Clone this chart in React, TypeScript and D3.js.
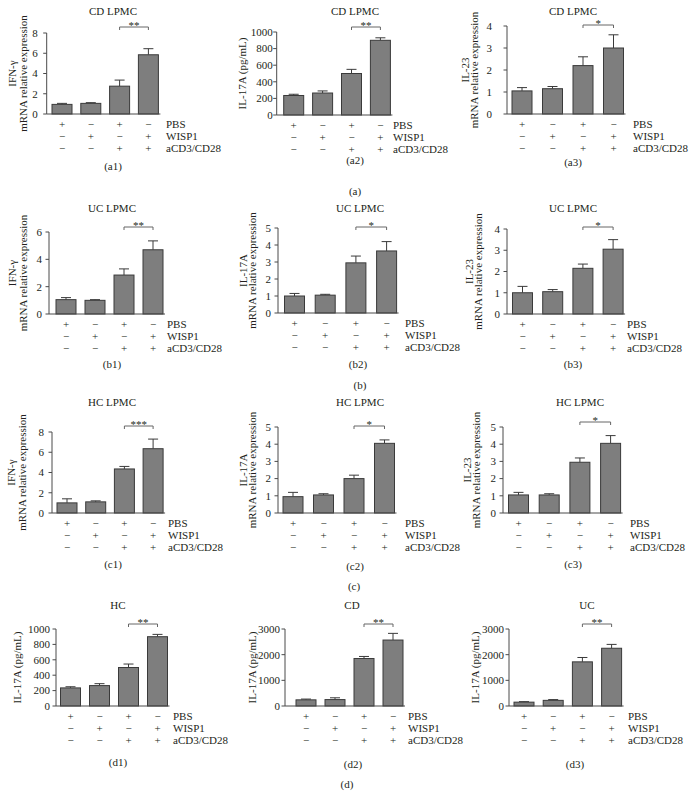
import React from "react";
import * as d3 from "d3";

// ---------- data ----------
const conditions = ["PBS", "WISP1", "aCD3/CD28"];
const signRows = [
  ["+", "−", "+", "−"],
  ["−", "+", "−", "+"],
  ["−", "−", "+", "+"],
];

const panelIds = ["a1", "a2", "a3", "b1", "b2", "b3", "c1", "c2", "c3", "d1", "d2", "d3"];
const panelTitles = ["CD LPMC", "CD LPMC", "CD LPMC", "UC LPMC", "UC LPMC", "UC LPMC", "HC LPMC", "HC LPMC", "HC LPMC", "HC", "CD", "UC"];
const yLabels = [
  ["IFN-γ", "mRNA relative expression"],
  ["IL-17A (pg/mL)"],
  ["IL-23", "mRNA relative expression"],
  ["IFN-γ", "mRNA relative expression"],
  ["IL-17A", "mRNA relative expression"],
  ["IL-23", "mRNA relative expression"],
  ["IFN-γ", "mRNA relative expression"],
  ["IL-17A", "mRNA relative expression"],
  ["IL-23", "mRNA relative expression"],
  ["IL-17A (pg/mL)"],
  ["IL-17A (pg/mL)"],
  ["IL-17A (pg/mL)"],
];
const yMax = [8, 1000, 4, 6, 5, 4, 8, 5, 5, 1000, 3000, 3000];
const yStep = [2, 200, 1, 2, 1, 1, 2, 1, 1, 200, 1000, 1000];
const stars = ["**", "**", "*", "**", "*", "*", "***", "*", "*", "**", "**", "**"];

const a1Mean = [0.95, 1.05, 2.75, 5.85];
const a1Top = [1.05, 1.12, 3.35, 6.45];
const a2Mean = [235, 265, 500, 900];
const a2Top = [250, 290, 550, 930];
const a3Mean = [1.05, 1.15, 2.2, 3.0];
const a3Top = [1.2, 1.25, 2.6, 3.6];
const b1Mean = [1.05, 1.0, 2.85, 4.7];
const b1Top = [1.2, 1.05, 3.3, 5.35];
const b2Mean = [1.0, 1.05, 2.95, 3.65];
const b2Top = [1.15, 1.1, 3.35, 4.2];
const b3Mean = [1.0, 1.05, 2.15, 3.05];
const b3Top = [1.3, 1.15, 2.35, 3.5];
const c1Mean = [1.0, 1.1, 4.35, 6.35];
const c1Top = [1.4, 1.2, 4.6, 7.3];
const c2Mean = [0.95, 1.05, 2.0, 4.05];
const c2Top = [1.2, 1.12, 2.2, 4.25];
const c3Mean = [1.05, 1.05, 2.95, 4.05];
const c3Top = [1.2, 1.12, 3.2, 4.5];
const d1Mean = [235, 265, 500, 900];
const d1Top = [250, 290, 545, 930];
const d2Mean = [240, 250, 1850, 2570];
const d2Top = [270, 320, 1930, 2830];
const d3Mean = [150, 220, 1720, 2250];
const d3Top = [170, 250, 1890, 2400];

const means = [a1Mean, a2Mean, a3Mean, b1Mean, b2Mean, b3Mean, c1Mean, c2Mean, c3Mean, d1Mean, d2Mean, d3Mean];
const tops = [a1Top, a2Top, a3Top, b1Top, b2Top, b3Top, c1Top, c2Top, c3Top, d1Top, d2Top, d3Top];

const groupLabels = ["(a)", "(b)", "(c)", "(d)"];

// ---------- layout (positions only) ----------
type L = {
  ax: number; top: number; base: number; first: number; step: number;
  rowX: number; capX: number; capY: number; titleX: number; titleY: number;
  brY: number; labX: number[]; gap: number;
};
const layout: L[] = [
  { ax: 46.7, top: 33, base: 114, first: 15.3, step: 28.8, rowX: 166, capX: 113, capY: 166, titleX: 113, titleY: 11, brY: 27, labX: [12, 23], gap: 9 },
  { ax: 276.7, top: 32, base: 115, first: 17, step: 28.9, rowX: 393, capX: 355, capY: 160, titleX: 355, titleY: 11, brY: 27, labX: [242.5], gap: 4 },
  { ax: 507, top: 26, base: 114, first: 15, step: 30.5, rowX: 633, capX: 573, capY: 162, titleX: 573, titleY: 11, brY: 25, labX: [465, 474.5], gap: 15 },
  { ax: 49, top: 232, base: 314, first: 17, step: 29, rowX: 167, capX: 112, capY: 364, titleX: 112, titleY: 208, brY: 227, labX: [12, 23], gap: 7 },
  { ax: 278, top: 228, base: 313, first: 16.5, step: 30.7, rowX: 405, capX: 358, capY: 364, titleX: 360, titleY: 208, brY: 227, labX: [243, 252], gap: 7 },
  { ax: 507, top: 229, base: 314, first: 15.5, step: 30.2, rowX: 627, capX: 573, capY: 364, titleX: 573, titleY: 208, brY: 227, labX: [469, 478], gap: 7 },
  { ax: 52, top: 432, base: 513, first: 15, step: 28.7, rowX: 168, capX: 113, capY: 564, titleX: 112, titleY: 402, brY: 426, labX: [11.5, 22.5], gap: 8 },
  { ax: 278, top: 427, base: 513, first: 15, step: 30.5, rowX: 405, capX: 355, capY: 566, titleX: 360, titleY: 402, brY: 426, labX: [243, 252], gap: 7 },
  { ax: 503, top: 427, base: 513, first: 15.5, step: 30.7, rowX: 630, capX: 573, capY: 564, titleX: 580, titleY: 402, brY: 422, labX: [467, 476], gap: 7 },
  { ax: 56, top: 629, base: 706, first: 14.5, step: 29, rowX: 173, capX: 118, capY: 762, titleX: 118, titleY: 605, brY: 624, labX: [17.5], gap: 6 },
  { ax: 285, top: 629, base: 706, first: 21, step: 29, rowX: 408, capX: 353, capY: 764, titleX: 352, titleY: 605, brY: 624, labX: [252.5], gap: 5 },
  { ax: 509, top: 629, base: 706, first: 15, step: 29.2, rowX: 628, capX: 575, capY: 764, titleX: 587, titleY: 605, brY: 624, labX: [475], gap: 5 },
];
const groupPos = [
  [355, 191],
  [360, 385],
  [354, 586],
  [347, 784],
];

const FONT = "'Liberation Serif', 'Times New Roman', serif";
const TEXT = "#231f20";
const BAR_FILL = "#7e7e7e";
const BAR_STROKE = "#3a3a3a";
const AXIS = "#4a4a4a";

function Panel({ i }: { i: number }) {
  const L = layout[i];
  const y = d3.scaleLinear().domain([0, yMax[i]]).range([L.base, L.top]);
  const x = d3.scaleLinear().domain([0, 3]).range([L.ax + L.first, L.ax + L.first + 3 * L.step]);
  const ticks = d3.range(0, yMax[i] + yStep[i] / 2, yStep[i]);
  const bw = 20;
  const capW = 10;
  const lastX = x(3);
  const midY = (L.top + L.base) / 2;
  return (
    <g>
      <text x={L.titleX} y={L.titleY} dy="0.35em" textAnchor="middle" fontSize={11}>{panelTitles[i]}</text>
      {yLabels[i].map((t, k) => (
        <text key={k} transform={`translate(${L.labX[k]},${midY}) rotate(-90)`} textAnchor="middle" dy="0.35em" fontSize={11}>{t}</text>
      ))}
      {means[i].map((m, k) => (
        <g key={"e" + k} stroke={BAR_STROKE} strokeWidth={1}>
          <line x1={x(k)} x2={x(k)} y1={y(m)} y2={y(tops[i][k])} />
          <line x1={x(k) - capW / 2} x2={x(k) + capW / 2} y1={y(tops[i][k])} y2={y(tops[i][k])} />
        </g>
      ))}
      {means[i].map((m, k) => (
        <rect key={"b" + k} x={x(k) - bw / 2} y={y(m)} width={bw} height={L.base - y(m)} fill={BAR_FILL} stroke={BAR_STROKE} strokeWidth={1} />
      ))}
      <line x1={L.ax} x2={L.ax} y1={L.top} y2={L.base} stroke={AXIS} strokeWidth={1} />
      {ticks.map((t) => (
        <g key={"t" + t}>
          <line x1={L.ax - 3.5} x2={L.ax} y1={y(t)} y2={y(t)} stroke={AXIS} strokeWidth={1} />
          <text x={L.ax - L.gap} y={y(t)} dy="0.35em" textAnchor="end" fontSize={11}>{t}</text>
        </g>
      ))}
      <line x1={L.ax} x2={lastX + 12} y1={L.base} y2={L.base} stroke={AXIS} strokeWidth={1} />
      <path d={`M${x(2)},${L.brY + 3}V${L.brY}H${x(3)}V${L.brY + 3}`} fill="none" stroke="#666" strokeWidth={1} />
      <text x={(x(2) + x(3)) / 2} y={L.brY + 2} textAnchor="middle" fontSize={11}>{stars[i]}</text>
      {signRows.map((row, r) => (
        <g key={"r" + r}>
          {row.map((s, k) => (
            <text key={k} x={x(k)} y={L.base + 10 + 12 * r} dy="0.35em" textAnchor="middle" fontSize={11}>{s}</text>
          ))}
          <text x={L.rowX} y={L.base + 10 + 12 * r} dy="0.35em" fontSize={11}>{conditions[r]}</text>
        </g>
      ))}
      <text x={L.capX} y={L.capY} dy="0.35em" textAnchor="middle" fontSize={11}>({panelIds[i]})</text>
    </g>
  );
}

export default function App() {
  return (
    <svg width={695} height={804} style={{ position: "absolute", left: 0, top: 0, background: "#fff" }} fontFamily={FONT} fill={TEXT}>
      <rect width={695} height={804} fill="#fff" />
      {panelIds.map((_, i) => (
        <Panel key={i} i={i} />
      ))}
      {groupLabels.map((g, k) => (
        <text key={g} x={groupPos[k][0]} y={groupPos[k][1]} dy="0.35em" textAnchor="middle" fontSize={11}>{g}</text>
      ))}
    </svg>
  );
}
